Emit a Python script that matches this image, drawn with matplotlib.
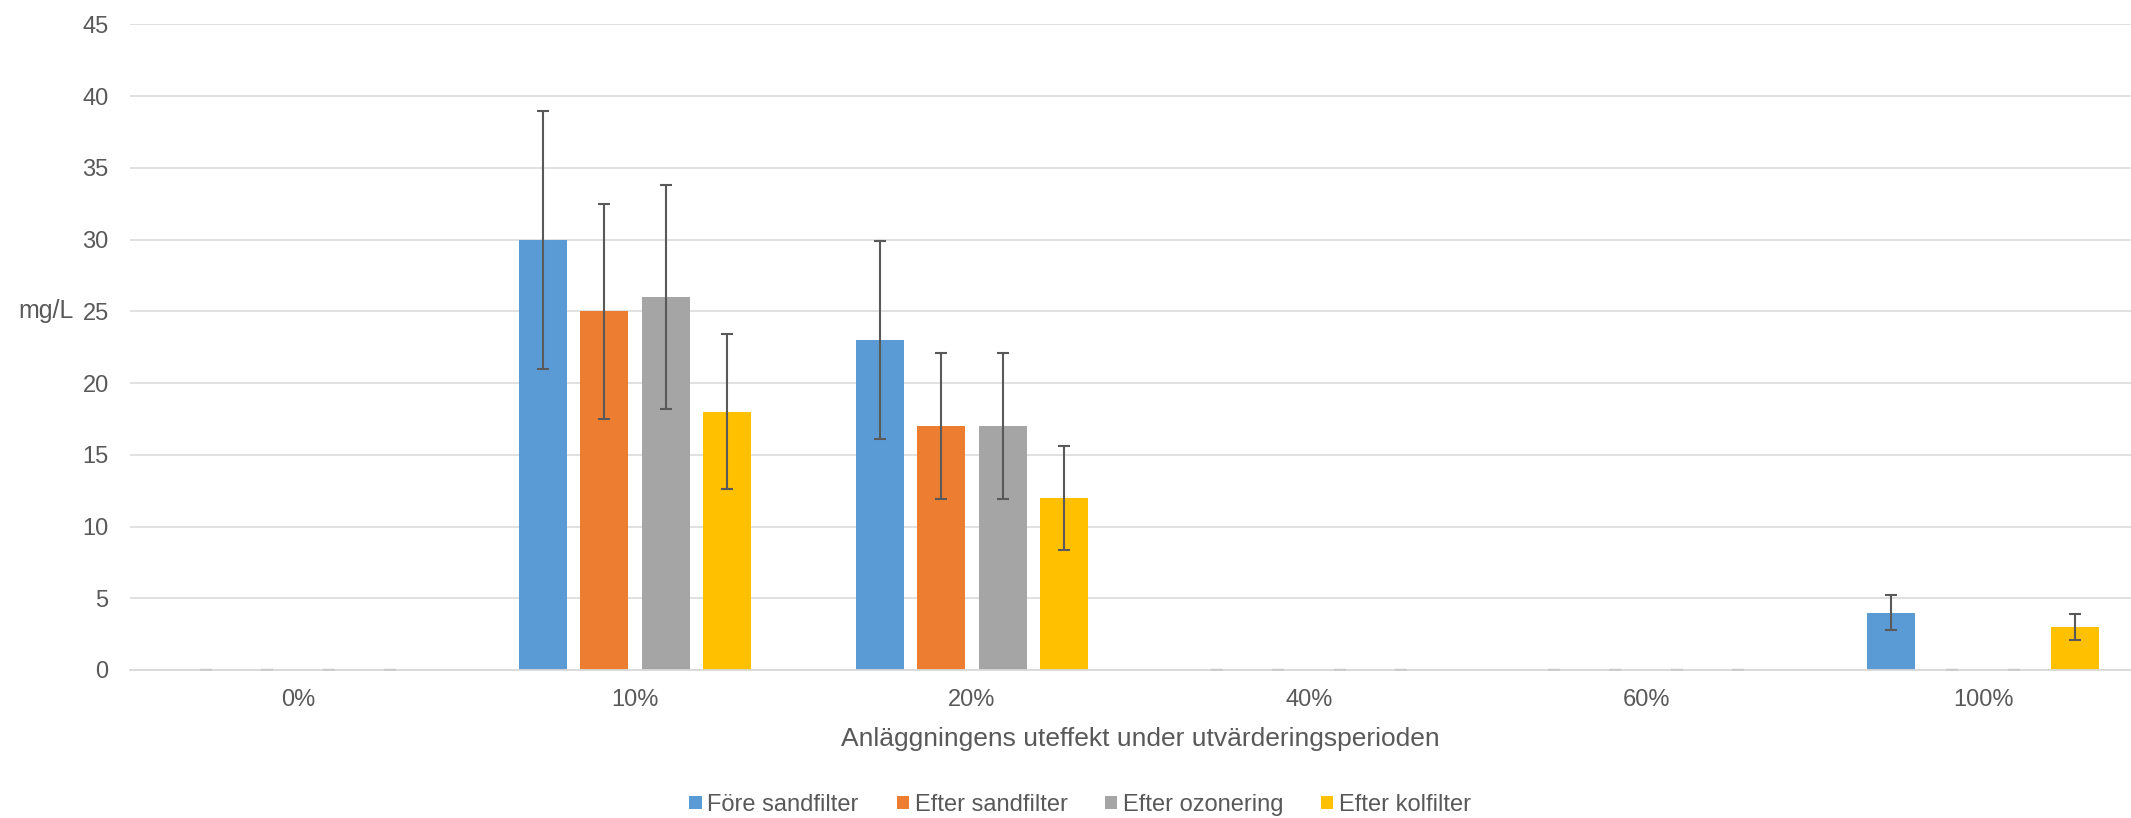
import matplotlib.pyplot as plt
from matplotlib.patches import Patch
import numpy as np

plt.rcParams['font.family'] = ['Liberation Sans', 'DejaVu Sans']

# Data
categories = ['0%', '10%', '20%', '40%', '60%', '100%']
series_names = ['Före sandfilter', 'Efter sandfilter', 'Efter ozonering', 'Efter kolfilter']
fore_sandfilter = [0, 30, 23, 0, 0, 4]
efter_sandfilter = [0, 25, 17, 0, 0, 0]
efter_ozonering = [0, 26, 17, 0, 0, 0]
efter_kolfilter = [0, 18, 12, 0, 0, 3]
fore_sandfilter_err = [0, 9, 6.9, 0, 0, 1.2]
efter_sandfilter_err = [0, 7.5, 5.1, 0, 0, 0]
efter_ozonering_err = [0, 7.8, 5.1, 0, 0, 0]
efter_kolfilter_err = [0, 5.4, 3.6, 0, 0, 0.9]

values = [fore_sandfilter, efter_sandfilter, efter_ozonering, efter_kolfilter]
errors = [fore_sandfilter_err, efter_sandfilter_err, efter_ozonering_err, efter_kolfilter_err]
colors = ['#5B9BD5', '#ED7D31', '#A5A5A5', '#FFC000']
text_color = '#595959'

fig = plt.figure(figsize=(21.31, 8.18), dpi=100)
# the plot area runs past the right edge of the picture, like the original crop
ax = fig.add_axes([0.06077, 0.18093, 0.94885, 0.78912])

x = np.arange(len(categories))
width = 0.1424
step = 0.1816

for k in range(4):
    pos = x + (k - 1.5) * step
    ax.bar(pos, values[k], width, color=colors[k], zorder=2)
    ax.errorbar(pos, values[k], yerr=errors[k], fmt='none', ecolor='#595959',
                elinewidth=1.5, capsize=4.3, capthick=1.5, zorder=2)

ax.set_xlim(-0.5, len(categories) - 0.5)
ax.set_ylim(0, 45)
ax.set_yticks(range(0, 46, 5))
ax.set_xticks(x)
ax.set_xticklabels(categories)

ax.set_axisbelow(True)
ax.grid(axis='y', color='#d9d9d9', linewidth=1.1)
for side in ['top', 'right', 'left']:
    ax.spines[side].set_visible(False)
ax.spines['bottom'].set_color('#d9d9d9')
ax.spines['bottom'].set_linewidth(1.3)
ax.spines['bottom'].set_zorder(3)

ax.tick_params(axis='x', length=0, pad=13.5, labelsize=17, labelcolor=text_color)
ax.tick_params(axis='y', length=0, pad=15, labelsize=17, labelcolor=text_color)

# Labels
ax.set_xlabel('Anläggningens uteffekt under utvärderingsperioden', fontsize=19,
              color=text_color, labelpad=12)
ax.set_ylabel('mg/L', fontsize=18, color=text_color, rotation=0, ha='right', va='center')
ax.yaxis.set_label_coords(-0.0275, 25 / 45)

handles = [Patch(facecolor=c, edgecolor='none') for c in colors]
fig.legend(handles, series_names, loc='center', bbox_to_anchor=(0.507, 0.016),
           ncol=4, frameon=False, fontsize=17, labelcolor=text_color,
           handlelength=0.51, handleheight=0.51, handletextpad=0.25,
           columnspacing=1.6)

fig.savefig('out.png', dpi=100)
